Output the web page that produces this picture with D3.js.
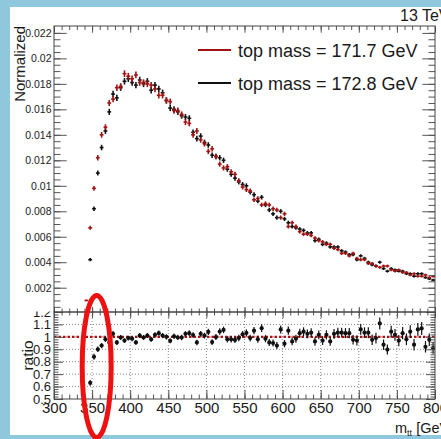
<!DOCTYPE html>
<html>
<head>
<meta charset="utf-8">
<script src="https://cdn.jsdelivr.net/npm/d3@7/dist/d3.min.js"></script>
<style>
  body { margin: 0; background: #8fc8dc; }
  svg { display: block; }
  text { font-family: "Liberation Sans", Arial, sans-serif; fill: #1a1a1a; }
</style>
</head>
<body>
<svg id="chart" width="441" height="439"></svg>
<script>
// m_tt bins, 5 GeV wide, 340 - 800 GeV (bin centres)
var massBins = d3.range(342.5, 800, 5);

// top mass = 171.7 GeV (red)
var redVals = [
  0.0010, 0.0067, 0.0098, 0.0122, 0.0140, 0.0146, 0.0165, 0.0168, 0.0177, 0.0178,
  0.0188, 0.0186, 0.0184, 0.0187, 0.0181, 0.0181, 0.0180, 0.0179, 0.0176, 0.0171,
  0.0171, 0.0167, 0.0166, 0.0159, 0.0159, 0.0156, 0.0150, 0.0149, 0.0140, 0.0143,
  0.0136, 0.0133, 0.0127, 0.0129, 0.0123, 0.0117, 0.0114, 0.0115, 0.0111, 0.0109,
  0.0104, 0.0099, 0.0097, 0.0096, 0.0089, 0.0090, 0.0085, 0.0086, 0.0085, 0.0082,
  0.0081, 0.0075, 0.0078, 0.0068, 0.0071, 0.0068, 0.0064, 0.0062, 0.0062, 0.0061,
  0.0059, 0.0057, 0.0056, 0.0054, 0.0054, 0.0051, 0.0050, 0.0047, 0.0047, 0.0045,
  0.0047, 0.0043, 0.0042, 0.0042, 0.0039, 0.0039, 0.0037, 0.0036, 0.0037, 0.0037,
  0.0034, 0.0033, 0.0034, 0.0032, 0.0032, 0.0030, 0.0031, 0.0029, 0.0029, 0.0030,
  0.0028, 0.0029
];

// top mass = 172.8 GeV (black)
var blackVals = [
  0.0001, 0.0042, 0.0082, 0.0110, 0.0130, 0.0143, 0.0158, 0.0172, 0.0169, 0.0177,
  0.0182, 0.0184, 0.0181, 0.0179, 0.0183, 0.0180, 0.0182, 0.0175, 0.0179, 0.0176,
  0.0173, 0.0167, 0.0161, 0.0160, 0.0158, 0.0155, 0.0154, 0.0153, 0.0142, 0.0137,
  0.0139, 0.0134, 0.0132, 0.0124, 0.0123, 0.0122, 0.0120, 0.0113, 0.0109, 0.0106,
  0.0103, 0.0101, 0.0100, 0.0095, 0.0093, 0.0088, 0.0091, 0.0085, 0.0081, 0.0078,
  0.0075, 0.0080, 0.0074, 0.0071, 0.0068, 0.0067, 0.0066, 0.0065, 0.0063, 0.0063,
  0.0057, 0.0058, 0.0054, 0.0055, 0.0052, 0.0052, 0.0052, 0.0049, 0.0048, 0.0046,
  0.0046, 0.0042, 0.0045, 0.0043, 0.0040, 0.0038, 0.0037, 0.0040, 0.0035, 0.0033,
  0.0035, 0.0034, 0.0033, 0.0033, 0.0031, 0.0031, 0.0029, 0.0031, 0.0031, 0.0028,
  0.0027, 0.0026
];

// ratio black / red as read from the lower pad (first bin is off scale)
var ratioVals = [
  null, 0.63, 0.84, 0.90, 0.93, 0.98, 0.955, 1.025, 0.955, 0.995,
  0.97, 0.99, 0.985, 0.955, 1.01, 0.995, 1.01, 0.98, 1.017, 1.03,
  1.01, 1.0, 0.968, 1.005, 0.995, 0.995, 1.024, 1.03, 1.015, 0.955,
  1.024, 1.01, 1.04, 0.958, 0.998, 1.043, 1.056, 0.98, 0.98, 0.975,
  0.99, 1.02, 1.032, 0.99, 1.05, 0.98, 1.07, 0.985, 0.955, 0.95,
  0.93, 1.06, 0.945, 1.05, 0.963, 0.985, 1.03, 1.042, 1.024, 1.034,
  0.963, 1.016, 0.97, 1.016, 0.963, 1.024, 1.034, 1.034, 1.03, 1.03,
  0.976, 0.97, 1.06, 1.034, 1.034, 0.976, 0.99, 1.108, 0.937, 0.898,
  1.042, 1.016, 0.97, 1.03, 0.98, 1.042, 0.937, 1.06, 1.068, 0.92,
  0.976, 0.91
];

var upperTicks = [0.002, 0.004, 0.006, 0.008, 0.01, 0.012, 0.014, 0.016, 0.018, 0.02, 0.022];
var ratioTicks = [0.5, 0.6, 0.7, 0.8, 0.9, 1.0, 1.1, 1.2];
var massTicks = [300, 350, 400, 450, 500, 550, 600, 650, 700, 750, 800];
var legendLabels = ["top mass = 171.7 GeV", "top mass = 172.8 GeV"];

var binWidth = 5;
var redColor = "#a31212";
var blackColor = "#111111";
var tickColor = "#555";

// pad geometry
var padLeft = 54, padRight = 435;
var upTop = 26, split = 312, lowBottom = 399;

var svg = d3.select("#chart");
svg.append("rect").attr("width", 441).attr("height", 439).attr("fill", "#8fc8dc");
svg.append("rect").attr("x", 10).attr("y", 7).attr("width", 431).attr("height", 428).attr("fill", "#fff");

var x = d3.scaleLinear().domain([300, 800]).range([padLeft, padRight]);
var yUp = d3.scaleLinear().domain([0, 0.02254]).range([313.2, upTop]);
var yRatio = d3.scaleLinear().domain([0.5, 1.2]).range([lowBottom, split]);

// statistical uncertainty ~ sqrt(N)
function statErr(v) { return 0.0019 * Math.sqrt(v); }

var defs = svg.append("defs");
defs.append("clipPath").attr("id", "clipUp").append("rect")
  .attr("x", padLeft).attr("y", upTop).attr("width", padRight - padLeft).attr("height", split - upTop);
defs.append("clipPath").attr("id", "clipLow").append("rect")
  .attr("x", padLeft).attr("y", split).attr("width", padRight - padLeft).attr("height", lowBottom - split);
defs.append("clipPath").attr("id", "clipLowLabels").append("rect")
  .attr("x", 0).attr("y", split - 0.5).attr("width", 441).attr("height", 439 - split);

function styleTicks(g) {
  g.select(".domain").remove();
  g.selectAll(".tick line").attr("stroke", tickColor).attr("stroke-width", 1);
  g.selectAll(".tick text").attr("fill", "#1a1a1a").attr("font-family", "Liberation Sans, Arial, sans-serif");
}

function minorTicks(parent, axis, vals, size, tx, ty) {
  var g = parent.append("g").attr("transform", "translate(" + tx + "," + ty + ")")
    .call(axis.tickValues(vals).tickSize(size).tickFormat(""));
  styleTicks(g);
  return g;
}

// ---------------- lower pad (ratio) ----------------
var low = svg.append("g");
var lowMarks = low.append("g").attr("clip-path", "url(#clipLow)");

// grid
lowMarks.selectAll(".hgrid").data(ratioTicks.filter(d => d > 0.5 && d < 1.2)).enter()
  .append("line").attr("class", "hgrid")
  .attr("x1", padLeft).attr("x2", padRight)
  .attr("y1", d => yRatio(d)).attr("y2", d => yRatio(d))
  .attr("stroke", "#888").attr("stroke-dasharray", "1,2");
lowMarks.selectAll(".vgrid").data(massTicks.filter(d => d > 300 && d < 800)).enter()
  .append("line").attr("class", "vgrid")
  .attr("x1", d => x(d)).attr("x2", d => x(d))
  .attr("y1", split).attr("y2", lowBottom)
  .attr("stroke", "#888").attr("stroke-dasharray", "1,2");

// reference line at 1
lowMarks.append("line")
  .attr("x1", padLeft).attr("x2", padRight)
  .attr("y1", yRatio(1)).attr("y2", yRatio(1))
  .attr("stroke", "#b01010").attr("stroke-width", 2.2).attr("stroke-dasharray", "2.5,2");

var ratioData = massBins.map(function (m, i) {
  var r = ratioVals[i];
  if (r === null) return null;
  var rel = Math.sqrt(Math.pow(statErr(blackVals[i]) / blackVals[i], 2) + Math.pow(statErr(redVals[i]) / redVals[i], 2));
  return { m: m, r: r, e: r * rel };
}).filter(d => d !== null);

lowMarks.selectAll(".rerr").data(ratioData).enter()
  .append("line").attr("class", "rerr")
  .attr("x1", d => x(d.m)).attr("x2", d => x(d.m))
  .attr("y1", d => yRatio(d.r - d.e)).attr("y2", d => yRatio(d.r + d.e))
  .attr("stroke", blackColor).attr("stroke-width", 1.2);
lowMarks.selectAll(".rpt").data(ratioData).enter()
  .append("circle").attr("class", "rpt")
  .attr("cx", d => x(d.m)).attr("cy", d => yRatio(d.r))
  .attr("r", 2.1).attr("fill", blackColor);

// ratio axes
var ratioMinor = d3.range(0.5, 1.2001, 0.02);
var massMinor = d3.range(300, 800.1, 10);
var lowAxes = low.append("g").attr("clip-path", "url(#clipLowLabels)");

var gl = lowAxes.append("g").attr("transform", "translate(" + padLeft + ",0)")
  .call(d3.axisLeft(yRatio).tickValues(ratioTicks).tickSize(-9).tickPadding(3)
    .tickFormat(d => String(+d.toFixed(1))));
styleTicks(gl);
gl.selectAll(".tick text").attr("font-size", 13);
minorTicks(lowAxes, d3.axisLeft(yRatio), ratioMinor, -4.5, padLeft, 0);

var gr = lowAxes.append("g").attr("transform", "translate(" + padRight + ",0)")
  .call(d3.axisRight(yRatio).tickValues(ratioTicks).tickSize(-9).tickFormat(""));
styleTicks(gr);
minorTicks(lowAxes, d3.axisRight(yRatio), ratioMinor, -4.5, padRight, 0);

var gb = svg.append("g").attr("transform", "translate(0," + lowBottom + ")")
  .call(d3.axisBottom(x).tickValues(massTicks).tickSize(-9).tickPadding(3.8).tickFormat(d => String(d)));
styleTicks(gb);
gb.selectAll(".tick text").attr("font-size", 15);
minorTicks(svg, d3.axisBottom(x), massMinor, -4.5, 0, lowBottom);

// ticks on the border between the pads
minorTicks(svg, d3.axisTop(x), massTicks, -6, 0, split);
minorTicks(svg, d3.axisTop(x), massMinor, -3.5, 0, split);
minorTicks(svg, d3.axisBottom(x), massTicks, -5, 0, split);
minorTicks(svg, d3.axisBottom(x), massMinor, -3.5, 0, split);

// ---------------- upper pad ----------------
var upMarks = svg.append("g").attr("clip-path", "url(#clipUp)");

function drawSeries(vals, color, cls) {
  var data = massBins.map((m, i) => ({ m: m, v: vals[i], e: statErr(vals[i]) }));
  var g = upMarks.append("g").attr("class", cls);
  g.selectAll(".h").data(data).enter().append("line")
    .attr("x1", d => x(d.m - binWidth / 2)).attr("x2", d => x(d.m + binWidth / 2))
    .attr("y1", d => yUp(d.v)).attr("y2", d => yUp(d.v))
    .attr("stroke", color).attr("stroke-width", 1.6);
  g.selectAll(".v").data(data).enter().append("line")
    .attr("x1", d => x(d.m)).attr("x2", d => x(d.m))
    .attr("y1", d => yUp(d.v - d.e)).attr("y2", d => yUp(d.v + d.e))
    .attr("stroke", color).attr("stroke-width", 1.6);
}
drawSeries(blackVals, blackColor, "black");
drawSeries(redVals, redColor, "red");

var upperMinor = d3.range(0.0005, 0.0225, 0.0005);
var gul = svg.append("g").attr("transform", "translate(" + padLeft + ",0)")
  .call(d3.axisLeft(yUp).tickValues(upperTicks).tickSize(-12.7).tickPadding(2.5)
    .tickFormat(d => String(+d.toFixed(3))));
styleTicks(gul);
gul.selectAll(".tick text").attr("font-size", 10.5);
minorTicks(svg, d3.axisLeft(yUp), upperMinor, -6.5, padLeft, 0);
minorTicks(svg, d3.axisRight(yUp), upperTicks, -12.7, padRight, 0);
minorTicks(svg, d3.axisRight(yUp), upperMinor, -6.5, padRight, 0);
minorTicks(svg, d3.axisTop(x), massTicks, -6.7, 0, upTop);
minorTicks(svg, d3.axisTop(x), massMinor, -4, 0, upTop);

// frames
svg.append("rect").attr("x", padLeft).attr("y", upTop)
  .attr("width", padRight - padLeft).attr("height", split - upTop)
  .attr("fill", "none").attr("stroke", "#444").attr("stroke-width", 1);
svg.append("rect").attr("x", padLeft).attr("y", split)
  .attr("width", padRight - padLeft).attr("height", lowBottom - split)
  .attr("fill", "none").attr("stroke", "#444").attr("stroke-width", 1);

// legend
var legend = svg.append("g");
[redColor, blackColor].forEach(function (c, i) {
  var ly = 50 + i * 33;
  legend.append("line").attr("x1", 198).attr("x2", 231).attr("y1", ly).attr("y2", ly)
    .attr("stroke", c).attr("stroke-width", 2);
  legend.append("text").attr("x", 238).attr("y", ly + 6.5)
    .attr("font-size", 18).text(legendLabels[i]);
});

// titles
svg.append("text").attr("transform", "translate(25," + upTop + ") rotate(-90)")
  .attr("text-anchor", "end").attr("font-size", 15).text("Normalized");
svg.append("text").attr("transform", "translate(33," + ((split + lowBottom) / 2) + ") rotate(-90)")
  .attr("text-anchor", "middle").attr("font-size", 15.5).text("ratio");
svg.append("text").attr("x", 400).attr("y", 21).attr("font-size", 16).text("13 TeV");

var xt = svg.append("text").attr("x", 395).attr("y", 433).attr("font-size", 14.5);
xt.append("tspan").text("m");
xt.append("tspan").attr("font-size", 9).attr("dy", 3).text("tt");
xt.append("tspan").attr("dy", -3).text(" [GeV]");

// annotation ellipse
svg.append("ellipse").attr("cx", x(356)).attr("cy", 366.5).attr("rx", 14.5).attr("ry", 71)
  .attr("fill", "none").attr("stroke", "#ee1111").attr("stroke-width", 5);
</script>
</body>
</html>
